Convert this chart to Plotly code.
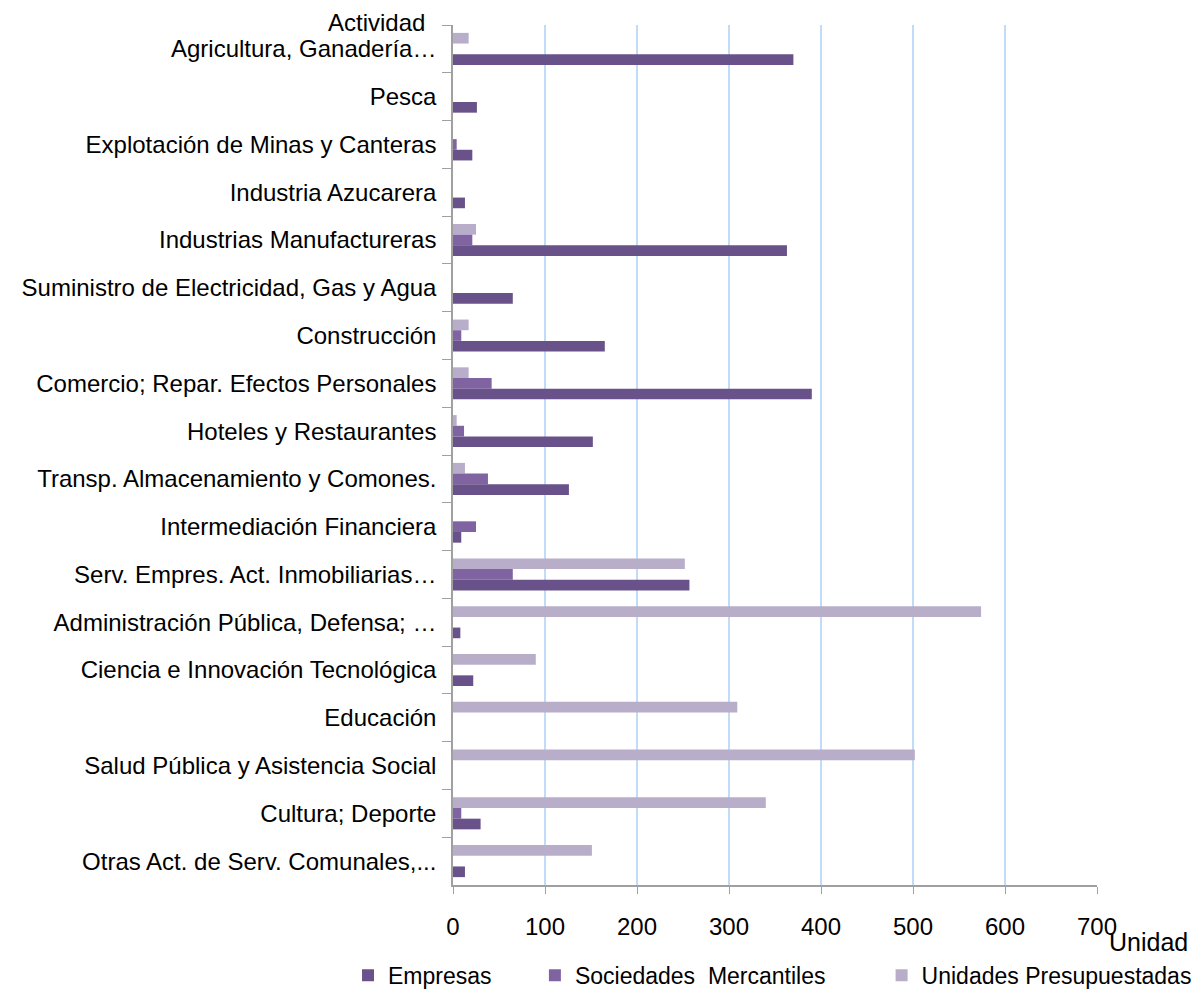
import plotly.graph_objects as go

categories = [
    "Agricultura, Ganadería…",
    "Pesca",
    "Explotación de Minas y Canteras",
    "Industria Azucarera",
    "Industrias Manufactureras",
    "Suministro de Electricidad, Gas y Agua",
    "Construcción",
    "Comercio; Repar. Efectos Personales",
    "Hoteles y Restaurantes",
    "Transp. Almacenamiento y Comones.",
    "Intermediación Financiera",
    "Serv. Empres. Act. Inmobiliarias…",
    "Administración Pública, Defensa; …",
    "Ciencia e Innovación Tecnológica",
    "Educación",
    "Salud Pública y Asistencia Social",
    "Cultura; Deporte",
    "Otras Act. de Serv. Comunales,...",
]

empresas = [370, 26, 21, 13, 363, 65, 165, 390, 152, 126, 9, 257, 8, 22, 0, 0, 30, 13]
sociedades = [0, 0, 4, 0, 21, 0, 9, 42, 12, 38, 25, 65, 0, 0, 0, 0, 9, 0]
unidades = [17, 0, 0, 0, 25, 0, 17, 17, 4, 13, 0, 252, 574, 90, 309, 502, 340, 151]

x_ticks = [0, 100, 200, 300, 400, 500, 600, 700]

col_emp = "#69528A"
col_soc = "#8064A2"
col_uni = "#B9AECA"

NB = "\u00a0"
fig = go.Figure()
# order within group: Unidades on top, Empresas on bottom (y axis reversed)
fig.add_trace(go.Bar(y=categories, x=unidades, name="Unidades Presupuestadas",
                     orientation="h", marker=dict(color=col_uni, line=dict(width=0))))
fig.add_trace(go.Bar(y=categories, x=sociedades, name="Sociedades  Mercantiles" + NB * 8,
                     orientation="h", marker=dict(color=col_soc, line=dict(width=0))))
fig.add_trace(go.Bar(y=categories, x=empresas, name="Empresas" + NB * 6,
                     orientation="h", marker=dict(color=col_emp, line=dict(width=0))))

fig.update_layout(
    width=1192, height=982,
    margin=dict(l=445, r=103, t=17, b=105, autoexpand=False),
    paper_bgcolor="white", plot_bgcolor="white",
    barmode="group", bargap=0.33, bargroupgap=0,
    font=dict(family="Liberation Sans, Arial, sans-serif", color="black", size=23),
    showlegend=True,
    legend=dict(orientation="h", traceorder="reversed", x=-0.163, xanchor="left",
                y=-0.105, yanchor="middle",
                font=dict(size=23), itemwidth=30),
    xaxis=dict(range=[0, 700], tickvals=x_ticks, showgrid=True, gridcolor="#BFDDF8",
               gridwidth=1.5, zeroline=False, showline=True, linecolor="#A0A0A0", linewidth=1.5,
               ticks="outside", ticklen=7, tickcolor="#A0A0A0",
               tickfont=dict(size=24),
               ticklabelstandoff=12),
    yaxis=dict(autorange="reversed", type="category", showgrid=False, showline=True,
               linecolor="#A0A0A0", linewidth=1.5, ticks="outside", tickson="boundaries",
               ticklen=9, tickcolor="#A0A0A0", ticklabelstandoff=10,
               tickfont=dict(size=24)),
    annotations=[
        dict(text="Actividad", xref="paper", yref="paper", x=-0.04, y=1.003,
             xanchor="right", yanchor="middle", showarrow=False, font=dict(size=24)),
        dict(text="Unidad", xref="paper", yref="paper", x=1.144, y=-0.066,
             xanchor="right", yanchor="middle", showarrow=False,
             font=dict(size=25)),
    ],
)

fig.write_html("out.html")
